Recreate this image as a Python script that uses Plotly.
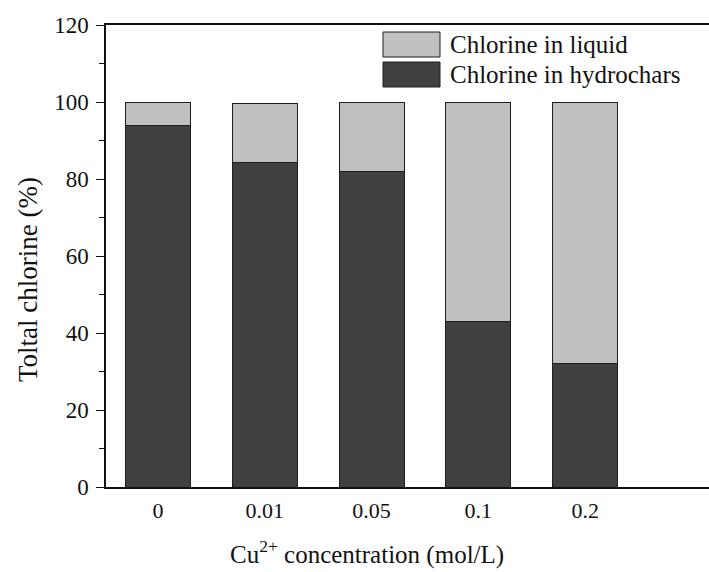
import plotly.graph_objects as go

categories = ["0", "0.01", "0.05", "0.1", "0.2"]
hydrochar = [93.8, 84.3, 82.0, 43.0, 32.2]
liquid = [6.2, 15.4, 18.0, 57.0, 67.8]
yticks = [0, 20, 40, 60, 80, 100, 120]

DARK = "#404040"
LIGHT = "#c0c0c0"
EDGE = "#1e1e1e"
FONT = "Liberation Serif, Times New Roman, Times, serif"

xpos = list(range(len(categories)))

fig = go.Figure()
fig.add_bar(x=xpos, y=hydrochar, name="Chlorine in hydrochars", width=0.61,
            marker=dict(color=DARK, line=dict(color=EDGE, width=1)), showlegend=False)
fig.add_bar(x=xpos, y=liquid, name="Chlorine in liquid", width=0.61,
            marker=dict(color=LIGHT, line=dict(color=EDGE, width=1)), showlegend=False)

L, R, T, B = 106, 0, 25, 85
W, H = 709, 572
pw, ph = W - L - R, H - T - B

def px2paper(x, y):
    return (x - L) / pw, (H - B - y) / ph

fig.update_layout(
    width=W, height=H, barmode="stack",
    margin=dict(l=L, r=R, t=T, b=B),
    paper_bgcolor="white", plot_bgcolor="white",
    font=dict(family=FONT, color="#111", size=22),
    xaxis=dict(range=[-0.487, 5.16], tickmode="array", tickvals=xpos, ticktext=categories,
               showline=True, linecolor="#111", linewidth=1.5, mirror=True,
               ticks="", showgrid=False, zeroline=False, ticklabelstandoff=3,
               tickfont=dict(size=22, family=FONT)),
    yaxis=dict(range=[0, 120], tickmode="array", tickvals=yticks,
               showline=True, linecolor="#111", linewidth=1.5, mirror=False,
               ticks="outside", ticklen=8, tickwidth=1.2, tickcolor="#111",
               minor=dict(dtick=10, ticks="outside", ticklen=5, tickwidth=1.2, tickcolor="#111"),
               showgrid=False, zeroline=False, ticklabelstandoff=3,
               tickfont=dict(size=23, family=FONT)),
)

# axis titles
ax, ay = px2paper(28, 280)
fig.add_annotation(text="Toltal chlorine (%)", x=ax, y=ay, xref="paper", yref="paper",
                   textangle=-90, showarrow=False, font=dict(size=27, family=FONT),
                   xanchor="center", yanchor="middle")
bx, by = px2paper(367, 552)
fig.add_annotation(text="Cu<sup>2+</sup> concentration (mol/L)", x=bx, y=by, xref="paper", yref="paper",
                   showarrow=False, font=dict(size=25, family=FONT),
                   xanchor="center", yanchor="middle")

# legend drawn manually
legend_items = [("Chlorine in liquid", LIGHT, 32, 57), ("Chlorine in hydrochars", DARK, 62, 87)]
for label, col, y0, y1 in legend_items:
    x0p, y0p = px2paper(383, y1)
    x1p, y1p = px2paper(440, y0)
    fig.add_shape(type="rect", xref="paper", yref="paper", x0=x0p, x1=x1p, y0=y0p, y1=y1p,
                  fillcolor=col, line=dict(color=EDGE, width=1))
    tx, ty = px2paper(448, (y0 + y1) / 2)
    fig.add_annotation(text=label, x=tx, y=ty, xref="paper", yref="paper", showarrow=False,
                       xanchor="left", yanchor="middle", font=dict(size=25, family=FONT))

fig.write_html("out.html")
